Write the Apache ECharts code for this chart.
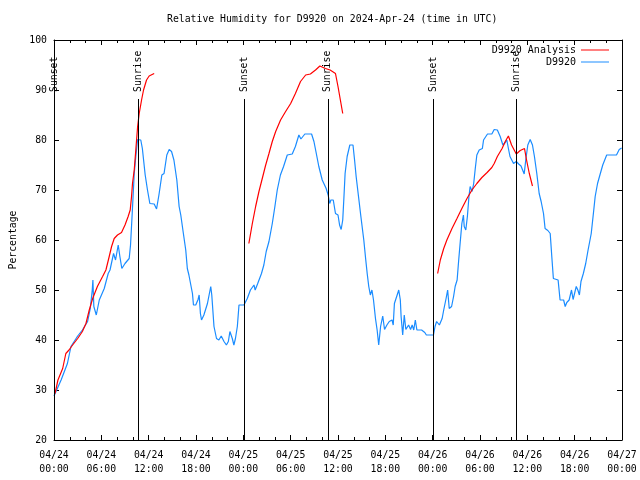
<!DOCTYPE html>
<html><head><meta charset="utf-8">
<script src="https://cdn.jsdelivr.net/npm/echarts@6/dist/echarts.min.js"></script>
<style>html,body{margin:0;padding:0;background:#fff}#c{width:640px;height:480px}</style>
</head><body><div id="c"></div>
<script>
// ---- data (hours since 2024-04-24 00:00 UTC) ----
const xTickLabels = ['04/24\n00:00','04/24\n06:00','04/24\n12:00','04/24\n18:00',
  '04/25\n00:00','04/25\n06:00','04/25\n12:00','04/25\n18:00',
  '04/26\n00:00','04/26\n06:00','04/26\n12:00','04/26\n18:00','04/27\n00:00'];

const obsHours = [0.0,0.9,1.7,2.15,3.0,3.6,4.26,4.6,4.85,4.93,5.05,5.36,5.74,6.37,6.87,7.1,7.55,7.8,8.14,8.35,8.6,9.0,9.53,9.7,9.87,10.0,10.17,10.37,10.6,11.0,11.2,11.56,11.85,12.15,12.7,13.0,13.3,13.67,13.95,14.3,14.6,14.9,15.2,15.57,15.86,16.07,16.4,16.7,16.9,17.1,17.3,17.55,17.68,17.97,18.26,18.4,18.56,18.7,19.0,19.45,19.87,20.0,20.28,20.6,20.9,21.2,21.55,21.85,22.1,22.3,22.6,22.8,23.0,23.24,23.45,24.08,24.5,24.9,25.35,25.5,25.8,26.0,26.3,26.6,26.9,27.25,27.67,28.0,28.3,28.7,29.1,29.57,30.2,30.6,31.04,31.3,31.8,32.65,32.95,33.2,33.57,34.0,34.5,34.75,34.95,35.1,35.4,35.68,36.0,36.2,36.4,36.6,36.75,36.9,37.16,37.5,37.9,38.1,38.3,38.6,38.9,39.27,39.5,39.7,39.9,40.1,40.3,40.5,40.75,40.96,41.16,41.4,41.67,41.9,42.2,42.5,42.85,43.0,43.15,43.5,43.7,43.9,44.0,44.2,44.4,44.6,44.95,45.2,45.4,45.6,45.8,46.0,46.6,47.0,47.2,48.1,48.3,48.5,48.85,49.2,49.4,49.7,49.9,50.1,50.4,50.65,50.85,51.1,51.3,51.5,51.7,51.9,52.0,52.2,52.4,52.6,52.75,53.0,53.2,53.4,53.6,53.9,54.3,54.45,54.95,55.5,55.8,56.2,56.56,56.9,57.2,57.4,57.6,57.8,58.25,58.6,58.9,59.2,59.4,59.6,59.8,60.06,60.36,60.65,60.9,61.2,61.5,61.75,62.05,62.25,62.6,62.9,63.1,63.3,63.5,63.9,64.15,64.6,64.8,65.0,65.3,65.6,65.8,66.2,66.4,66.6,66.8,67.1,67.4,67.7,68.1,68.4,68.6,68.9,69.2,69.56,70.06,71.3,71.65,71.95];
const obsRH = [28.8,32,35.3,38.7,40.8,42,43.7,46.3,50,52,46.7,45,48,50.3,53.3,54,57.3,56,59,56.7,54.3,55.3,56.3,59,64,68,73.3,76.7,80.1,80,78.3,73,70,67.3,67.2,66.2,69,73,73.3,77,78.1,77.7,76,72,66.7,65,61.3,58,54.3,53,52.7,49.3,47,47,48.1,49,45.3,44,45,47.3,50.7,49,42.7,40.3,40,40.8,39.7,39,39.7,41.7,40.3,39,40.3,42.7,47,47,48.3,50,51,50,51.2,51.2,53.3,55,57.7,59.7,63.3,66.7,70,73,74.7,77,77.2,78.7,81,80.2,81.2,81.2,79.7,77.7,74.7,72,70.3,69,67.3,68,68,65.3,65,63,62.1,64,68.5,73.3,76.7,79,79,76,72.7,68.7,64.7,60,56.3,53.3,50.7,49,50,48,44.3,42,39,42.7,44.8,42.1,43,43.7,44,43,47.3,49,50,48,44.7,41,45,42.1,43,42.1,43,42,44,42,42,41.5,41,41,42.7,43.7,43,44.3,46,48.3,50,46.3,46.7,48.7,50.7,52,56,59.7,63.3,65,62.7,62,64.7,68.7,70.7,69.7,71.3,74.3,77,78,78.3,80,81.2,81.2,82.1,82,80.7,79,79.5,80,78.3,76.7,75.3,75.7,75.2,74.8,74,73.2,76,79,80.1,79,76.7,73.3,69.3,67.7,65.3,62.3,61.9,61.3,56.7,52.3,52,52,48,48,46.7,47.5,48,50,48.1,50.7,50,49,51.7,53.3,55.3,58,61.3,65.7,68.7,71.3,73,75,77,77,78.1,78.4];

// analysis series; null = gap between runs
const anaHours = [0.13,0.5,1.1,1.5,1.9,2.36,3.0,3.6,4.05,4.47,4.9,5.5,6.16,6.58,7.0,7.3,7.63,8.05,8.56,9.0,9.4,9.66,9.83,9.95,10.17,10.37,10.6,10.8,11.1,11.35,11.73,12.06,12.7,
  18.0,
  24.7,25.14,25.56,25.98,26.4,26.8,27.25,27.67,28.1,28.72,29.36,30.0,30.6,31.25,31.9,32.5,33.15,33.7,34.4,35.0,35.68,36.0,36.3,36.6,
  42.0,
  48.63,48.97,49.4,49.8,50.45,51.08,51.7,52.35,52.98,53.6,54.24,54.9,55.5,55.8,56.2,56.8,57.2,57.6,58.0,58.6,59.1,59.64,59.9,60.25,60.65];
const anaRH = [29.3,32,34.3,37.3,38,39,40.3,41.7,43.3,46,48.3,50.7,52.7,54,56.7,58.7,60.3,61,61.5,63,64.7,66,68.7,71.3,74,78,82.7,85.3,88,90,92,92.8,93.3,
  null,
  59.3,63.3,66.7,69.7,72.3,74.8,77.3,79.7,81.7,84,85.7,87.3,89.3,91.7,93,93.2,94,94.8,94.3,94,93.3,90.7,88,85.3,
  null,
  53.3,56,58.3,60,62.3,64.3,66.3,68.3,70,71.3,72.5,73.5,74.5,75.3,76.7,78.3,79.7,80.8,79,77.2,77.9,78.3,76,73.3,70.8];

const sunHours  = [0.0, 10.67, 24.08, 34.71, 48.12, 58.63];
const sunLabels = ['Sunset','Sunrise','Sunset','Sunrise','Sunset','Sunrise'];
const seriesNames = ['D9920 Analysis', 'D9920'];

// ---- chart ----
const FONT = '"DejaVu Sans Mono", "Liberation Mono", monospace';
const SUN_TOP = 88.2;
const obsData = obsHours.map((h, i) => [h, obsRH[i]]);
const anaData = anaHours.map((h, i) => [h, anaRH[i] === null ? '-' : anaRH[i]]);
const sunData = sunHours.map((h, i) => ({ value: [h, SUN_TOP], name: sunLabels[i] }));
const sunLines = sunHours.map(h => [{ coord: [h, SUN_TOP] }, { coord: [h, 20] }]);

const tickCommon = { show: true, inside: true, length: 5, lineStyle: { color: '#000', width: 1 } };
const minorCommon = { show: true, splitNumber: 3, length: 3, lineStyle: { color: '#000', width: 1 } };
const lineCommon = { show: true, onZero: false, lineStyle: { color: '#000', width: 1 } };

const chart = echarts.init(document.getElementById('c'), null, { renderer: 'canvas' });
chart.setOption({
  animation: false,
  backgroundColor: '#fff',
  textStyle: { fontFamily: FONT },
  title: {
    text: 'Relative Humidity for D9920 on 2024-Apr-24 (time in UTC)',
    left: 167, top: 14, padding: 0,
    textStyle: { fontFamily: FONT, fontSize: 9.8, fontWeight: 'normal', color: '#000' }
  },
  legend: {
    data: seriesNames,
    orient: 'vertical', align: 'right',
    right: 31, top: 44, padding: 0, itemGap: 0,
    icon: 'rect', itemWidth: 28, itemHeight: 1,
    textStyle: { fontFamily: FONT, fontSize: 10, color: '#000', lineHeight: 12 },
    selectedMode: false
  },
  grid: { left: 53, right: 18, top: 40, bottom: 40, containLabel: false },
  xAxis: [{
    type: 'value', min: 0, max: 72, interval: 6, position: 'bottom',
    axisLine: lineCommon, axisTick: tickCommon, minorTick: minorCommon,
    splitLine: { show: false },
    axisLabel: {
      margin: 8, color: '#000', fontFamily: FONT, fontSize: 9.8, lineHeight: 14,
      showMinLabel: true, showMaxLabel: true,
      formatter: v => xTickLabels[Math.round(v / 6)]
    }
  }, {
    type: 'value', min: 0, max: 72, interval: 6, position: 'top',
    axisLine: lineCommon, axisTick: tickCommon, minorTick: minorCommon,
    splitLine: { show: false }, axisLabel: { show: false }
  }],
  yAxis: [{
    type: 'value', min: 20, max: 100, interval: 10, position: 'left',
    name: 'Percentage', nameLocation: 'middle', nameRotate: 90, nameGap: 36,
    nameTextStyle: { fontFamily: FONT, fontSize: 9.8, color: '#000' },
    axisLine: lineCommon, axisTick: tickCommon, splitLine: { show: false },
    axisLabel: { margin: 7, color: '#000', fontFamily: FONT, fontSize: 9.8 }
  }, {
    type: 'value', min: 20, max: 100, interval: 10, position: 'right',
    axisLine: lineCommon, axisTick: tickCommon, splitLine: { show: false },
    axisLabel: { show: false }
  }],
  series: [{
    name: 'sun', type: 'scatter', xAxisIndex: 0, yAxisIndex: 0,
    data: sunData, symbolSize: 0, silent: true, z: 1,
    itemStyle: { color: '#000', opacity: 1 },
    label: {
      show: true, position: 'top', distance: 7, rotate: 90,
      align: 'left', verticalAlign: 'middle', opacity: 1,
      formatter: p => p.name, color: '#000', fontFamily: FONT, fontSize: 9.8
    },
    markLine: {
      silent: true, symbol: ['none', 'none'], label: { show: false },
      lineStyle: { color: '#000', width: 1, type: 'solid', opacity: 1 },
      emphasis: { disabled: true },
      data: sunLines
    }
  }, {
    name: seriesNames[1], type: 'line', xAxisIndex: 0, yAxisIndex: 0,
    data: obsData, showSymbol: false, connectNulls: false, z: 3,
    color: '#1a8cff', lineStyle: { color: '#1a8cff', width: 1.2 }
  }, {
    name: seriesNames[0], type: 'line', xAxisIndex: 0, yAxisIndex: 0,
    data: anaData, showSymbol: false, connectNulls: false, z: 4,
    color: '#ff0000', lineStyle: { color: '#ff0000', width: 1.2 }
  }]
});
</script></body></html>
